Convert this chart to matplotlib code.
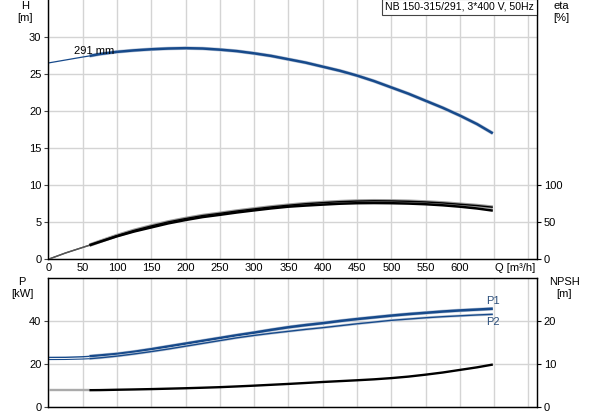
import numpy as np
import matplotlib
matplotlib.use("Agg")
import matplotlib.pyplot as plt
import matplotlib.patheffects as pe

plt.rcParams['font.family'] = ['Liberation Sans', 'DejaVu Sans']
plt.rcParams['font.size'] = 8

# Pump curve data (Q in m3/h)
q = [0, 25, 50, 60, 75, 100, 125, 150, 175, 200, 225, 250, 275, 300, 325, 350,
     375, 400, 425, 450, 475, 500, 525, 550, 575, 600, 625, 648]
head = [26.5, 26.9, 27.3, 27.45, 27.7, 28.0, 28.2, 28.35, 28.45, 28.5, 28.45, 28.3,
        28.1, 27.8, 27.45, 27.0, 26.55, 26.0, 25.45, 24.8, 24.05, 23.2, 22.35, 21.4,
        20.45, 19.4, 18.25, 17.0]
eta_pump = [0, 8.5, 16, 19, 24, 32, 39, 45, 50.5, 55, 59, 62, 65.2, 68, 70.7, 73,
            75, 76.5, 77.8, 78.6, 79, 78.8, 78.3, 77.4, 76.1, 74.3, 72.5, 70.3]
eta_total = [0, 8.5, 16, 19, 23.5, 31, 37.5, 43, 48.5, 53, 57, 60, 63.2, 66, 68.7, 71,
             72.5, 73.8, 75, 75.7, 75.9, 75.7, 75.2, 74.3, 72.9, 71.0, 68.6, 65.7]
p1 = [23.0, 23.05, 23.3, 23.5, 23.9, 24.6, 25.6, 26.8, 28.1, 29.4, 30.7, 32.0, 33.3,
      34.5, 35.8, 37.0, 38.0, 38.9, 39.9, 40.8, 41.6, 42.4, 43.1, 43.7, 44.3, 44.8,
      45.2, 45.6]
p2 = [22.0, 22.05, 22.25, 22.4, 22.8, 23.6, 24.6, 25.7, 26.9, 28.2, 29.5, 30.8, 32.1,
      33.2, 34.2, 35.1, 36.0, 36.8, 37.7, 38.6, 39.4, 40.2, 40.8, 41.4, 41.9, 42.3,
      42.7, 43.0]
npsh = [3.9, 3.9, 3.9, 3.9, 3.92, 4.0, 4.07, 4.15, 4.25, 4.35, 4.47, 4.6, 4.77, 4.95,
        5.15, 5.35, 5.57, 5.8, 6.0, 6.2, 6.42, 6.7, 7.05, 7.5, 8.0, 8.6, 9.2, 9.85]

q_ticks = [0, 50, 100, 150, 200, 250, 300, 350, 400, 450, 500, 550, 600]
title = "NB 150-315/291, 3*400 V, 50Hz"
impeller = "291 mm"

blue = '#174a8b'
grid_col = '#d4d4d4'
split = 3  # index where the operating range starts (Q = 60)

def halo(col='#b8c4d6', w=2.6):
    return [pe.Stroke(linewidth=w, foreground=col), pe.Normal()]

def draw(ax, y, color, lw, thin_color=None, thin_lw=1.0, effects=None):
    # thin part before the operating range, thick afterwards
    ax.plot(q[:split + 1], y[:split + 1], color=thin_color or color, lw=thin_lw)
    ax.plot(q[split:], y[split:], color=color, lw=lw, path_effects=effects,
            solid_capstyle='butt')

def style(ax):
    ax.set_xlim(0, 712)
    ax.set_xticks(np.arange(0, 701, 50))
    ax.grid(True, color=grid_col, lw=1)
    ax.set_axisbelow(True)
    for s in ax.spines.values():
        s.set_color('#222222')
        s.set_linewidth(1)
    ax.tick_params(length=3, width=0.8, color='#444444', pad=2)

fig = plt.figure(figsize=(5.93, 4.15), dpi=100)

# ---- top panel: head + efficiency
ax1 = fig.add_axes([0.0815, 0.3752, 0.8236, 0.6248])
style(ax1)
ax1.set_ylim(0, 35)
ax1.set_yticks([0, 5, 10, 15, 20, 25, 30])
ax1.spines['top'].set_visible(False)
ax1.set_xticklabels([str(t) if t in q_ticks else '' for t in range(0, 701, 50)])
ax1.tick_params(axis='x', length=0, pad=3)
ax1.text(651, -0.55, "Q [m³/h]", ha='left', va='top', fontsize=8)

draw(ax1, head, blue, 1.8, thin_lw=0.9, effects=halo())
ax1.text(37, 28.05, impeller, ha='left', va='center', fontsize=8)

ax1r = ax1.twinx()
ax1r.set_ylim(0, 350)
ax1r.set_yticks([0, 50, 100])
ax1r.spines['top'].set_visible(False)
ax1r.tick_params(length=3, width=0.8, pad=2)
draw(ax1r, eta_pump, 'black', 1.0, thin_color='#555555', effects=halo('#9a9a9a', 2.6))
draw(ax1r, eta_total, 'black', 1.8, thin_color='#555555')

fig.text(25 / 593, 1 - 6 / 415, "H", ha='center', va='center')
fig.text(25 / 593, 1 - 18 / 415, "[m]", ha='center', va='center')
fig.text(561 / 593, 1 - 6 / 415, "eta", ha='center', va='center')
fig.text(561 / 593, 1 - 18 / 415, "[%]", ha='center', va='center')
ax1.text(0.994, 0.993, title, transform=ax1.transAxes, ha='right', va='top',
         fontsize=7.6,
         bbox=dict(facecolor='white', edgecolor='#444444', lw=0.8, pad=2.0))

# ---- bottom panel: power + NPSH
ax2 = fig.add_axes([0.0815, 0.0193, 0.8236, 0.3116])
style(ax2)
ax2.set_ylim(0, 60)
ax2.set_yticks([0, 20, 40])
ax2.set_xticklabels([])
ax2.tick_params(axis='x', length=0)

draw(ax2, p1, blue, 1.8, thin_lw=1.0, effects=halo())
draw(ax2, p2, blue, 1.0, thin_lw=0.8, effects=halo('#c2ccda', 2.0))
ax2.text(q[-1], 49, "P1", ha='center', va='center', color='#2b4e7a')
ax2.text(q[-1], 39.4, "P2", ha='center', va='center', color='#2b4e7a')

ax2r = ax2.twinx()
ax2r.set_ylim(0, 30)
ax2r.set_yticks([0, 10, 20])
ax2r.tick_params(length=3, width=0.8, pad=2)
draw(ax2r, npsh, 'black', 1.7, thin_color='#aaaaaa', thin_lw=1.7)

fig.text(22 / 593, 1 - 282 / 415, "P", ha='center', va='center')
fig.text(22 / 593, 1 - 294 / 415, "[kW]", ha='center', va='center')
fig.text(564 / 593, 1 - 282 / 415, "NPSH", ha='center', va='center')
fig.text(564 / 593, 1 - 294 / 415, "[m]", ha='center', va='center')

fig.savefig("out.png", dpi=100)
